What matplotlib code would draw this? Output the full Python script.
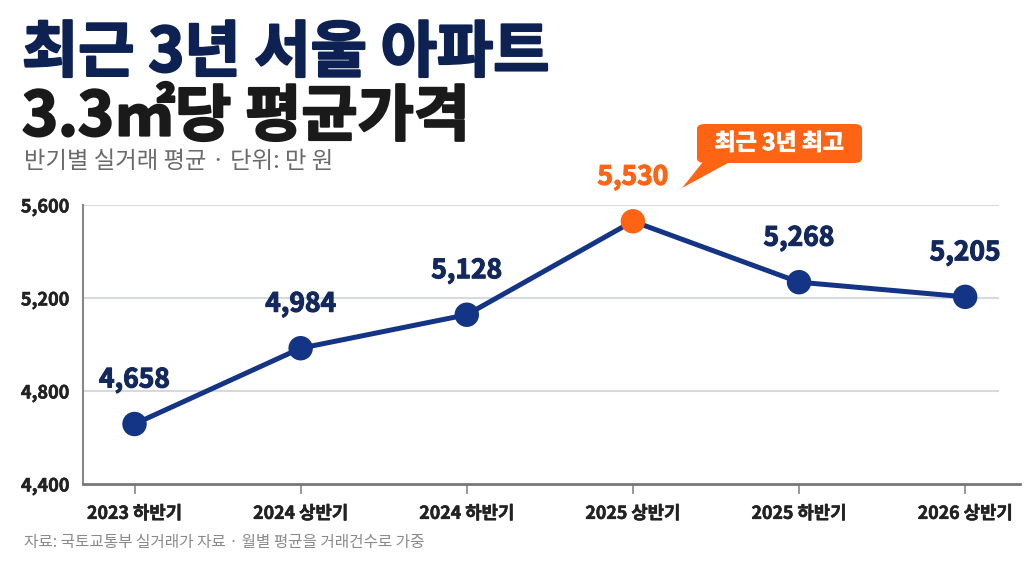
import matplotlib
matplotlib.use("Agg")
import matplotlib.pyplot as plt
import matplotlib.patheffects as pe
from matplotlib.patches import FancyBboxPatch, Polygon

plt.rcParams['font.family'] = ['Noto Sans CJK KR', 'DejaVu Sans']

# 데이터
periods = ['2023 하반기', '2024 상반기', '2024 하반기', '2025 상반기', '2025 하반기', '2026 상반기']
prices = [4658, 4984, 5128, 5530, 5268, 5205]
y_ticks = [4400, 4800, 5200, 5600]
peak_note = '최근 3년 최고'

navy = '#143585'
label_navy = '#13285c'
orange = '#ff6414'


def thick(color, w):
    # 글씨를 조금 더 굵게
    return [pe.withStroke(linewidth=w, foreground=color)]


fig = plt.figure(figsize=(10.24, 5.76), dpi=100)
ax = fig.add_axes([83/1024, 92/576, (1020-83)/1024, (484-205)/576])

x = list(range(len(periods)))
peak = prices.index(max(prices))

ax.plot(x, prices, color=navy, lw=3.6, zorder=3, solid_capstyle='round')
colors = [orange if i == peak else navy for i in x]
ax.scatter(x, prices, s=310, c=colors, zorder=4, edgecolors='none')

for i, v in enumerate(prices):
    c = orange if i == peak else label_navy
    ax.annotate(f'{v:,}', (i, v), xytext=(0, 22), textcoords='offset points',
                ha='center', va='bottom', fontsize=19, fontweight='bold',
                color=c, zorder=5, path_effects=thick(c, 0.8))

ax.set_xlim(-0.31, 5.33)
ax.set_ylim(4400, 5600)
ax.set_yticks(y_ticks)
ax.set_yticklabels([f'{t:,}' for t in y_ticks], fontsize=13, fontweight='bold', color='#222222')
ax.set_xticks(x)
ax.set_xticklabels(periods, fontsize=12.8, fontweight='bold', color='#222222')
ax.tick_params(axis='y', length=0, pad=10)
ax.tick_params(axis='x', length=7, color='#888888', width=1.2, pad=8)
for lab in ax.get_xticklabels() + ax.get_yticklabels():
    lab.set_path_effects(thick('#222222', 0.4))

for t in y_ticks[1:]:
    ax.axhline(t, xmin=0, xmax=0.977, color='#d6d9df', lw=1.5, zorder=1)

for s in ['top', 'right']:
    ax.spines[s].set_visible(False)
ax.spines['left'].set_color('#888888')
ax.spines['left'].set_linewidth(1.5)
ax.spines['bottom'].set_color('#777777')
ax.spines['bottom'].set_linewidth(2)

# 말풍선
bx0, by0, bw, bh = 697/1024, 1 - 163/576, 165/1024, 39/576
box = FancyBboxPatch((bx0, by0), bw, bh, boxstyle='round,pad=0,rounding_size=0.008',
                     transform=fig.transFigure, facecolor=orange, edgecolor='none')
fig.patches.append(box)
tail = Polygon([(703/1024, by0 + 0.002), (730/1024, by0 + 0.002), (682/1024, 1 - 188/576)],
               closed=True, transform=fig.transFigure, facecolor=orange, edgecolor='none')
fig.patches.append(tail)
fig.text(bx0 + bw/2, by0 + bh/2, peak_note, ha='center', va='center', fontsize=16.5,
         fontweight='bold', color='white', path_effects=thick('white', 0.6))

# 제목
fig.text(22/1024, 1 - 23/576, '최근 3년 서울 아파트', ha='left', va='top', fontsize=44,
         fontweight='black', color='#0d2252', path_effects=thick('#0d2252', 1.6))
fig.text(22/1024, 1 - 87/576, '3.3㎡당 평균가격', ha='left', va='top', fontsize=44,
         fontweight='black', color='#1a1a1a', path_effects=thick('#1a1a1a', 1.6))
fig.text(24/1024, 1 - 162/576, '반기별 실거래 평균 · 단위: 만 원', ha='left', va='center',
         fontsize=16.8, color='#6a6a6a')
fig.text(24/1024, 1 - 543/576, '자료: 국토교통부 실거래가 자료 · 월별 평균을 거래건수로 가중',
         ha='left', va='center', fontsize=11.3, color='#8a8a8a')

fig.savefig('out.png', dpi=100, facecolor='white')
